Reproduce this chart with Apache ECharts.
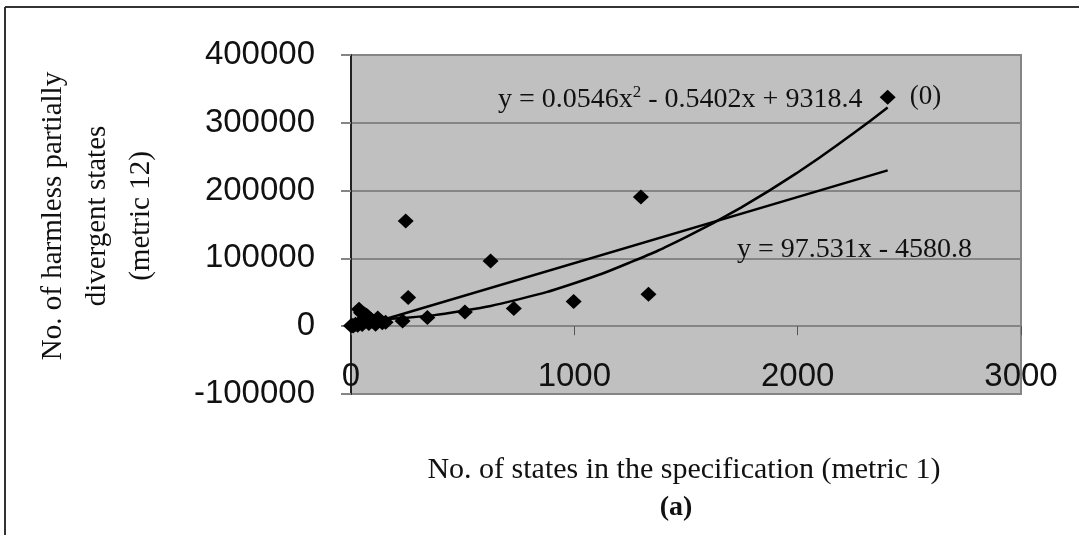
<!DOCTYPE html>
<html>
<head>
<meta charset="utf-8">
<script src="https://cdn.jsdelivr.net/npm/echarts@6/dist/echarts.min.js"></script>
<style>
  html, body { margin: 0; padding: 0; background: #fff; }
  #chart1 { width: 1079px; height: 535px; }
</style>
</head>
<body>
<div id="chart1"></div>
<script>
// states in spec (metric 1) vs harmless partially divergent states (metric 12)
const pointsX = [0, 5, 10, 20, 30, 36, 40, 45, 50, 60, 70, 75, 80, 90, 100, 110, 120, 140, 155,
  231, 245, 256, 342, 510, 625, 729, 997, 1298, 1332, 2403];
const pointsY = [500, 1000, 200, 3000, 1500, 25000, 6000, 20000, 2500, 18000, 16000, 14000, 4000, 10000, 7000, 3000, 12000, 5000, 6000,
  7800, 155000, 42200, 12800, 21000, 96000, 26000, 36300, 190700, 47000, 337800];

// trend lines
const linX = [0, 2403];
const linY = [-4600, 229800];
const polyX = [0, 250, 500, 750, 1000, 1250, 1500, 1750, 2000, 2250, 2403];
const polyY = [9300, 12600, 22700, 39600, 63400, 94100, 131500, 175700, 226700, 284500, 322500];

const xTicks = [0, 1000, 2000, 3000];
const yTicks = [-100000, 0, 100000, 200000, 300000, 400000];

const polyLabel = '{a|y = 0.0546x}{s|2}{a| - 0.5402x + 9318.4}';
const linLabel = 'y = 97.531x - 4580.8';
const topPointLabel = '(0)';

const zip = (a, b) => a.map((v, i) => [v, b[i]]);

let myChart = echarts.init(document.getElementById('chart1'));
const serif = '"Liberation Serif", "Times New Roman", serif';
const sans = '"Liberation Sans", Arial, sans-serif';

const option = {
    animation: false,
    backgroundColor: '#fff',
    grid: {
        left: 351, right: 58, top: 55, bottom: 141,
        show: true,
        backgroundColor: '#c0c0c0',
        borderColor: '#858585',
        borderWidth: 2
    },
    xAxis: {
        type: 'value',
        min: xTicks[0], max: xTicks[xTicks.length - 1], interval: 1000,
        axisLine: { onZero: true, lineStyle: { color: '#858585', width: 2 } },
        axisTick: { show: true, length: 9, inside: false, lineStyle: { color: '#555', width: 1 } },
        axisLabel: { fontFamily: sans, fontSize: 33, color: '#111', margin: -34, formatter: v => String(v) },
        splitLine: { show: false }
    },
    yAxis: {
        type: 'value',
        min: yTicks[0], max: yTicks[yTicks.length - 1], interval: 100000,
        axisLine: { show: true, onZero: false, lineStyle: { color: '#222', width: 2 } },
        axisTick: { show: true, length: 10, lineStyle: { color: '#858585', width: 2 } },
        axisLabel: { fontFamily: sans, fontSize: 33, color: '#111', margin: 36, formatter: v => String(v) },
        splitLine: { show: true, lineStyle: { color: '#858585', width: 2 } }
    },
    series: [
        {
            type: 'line',
            data: zip(linX, linY),
            symbol: 'none',
            lineStyle: { color: '#000', width: 2.5 },
            z: 3
        },
        {
            type: 'line',
            data: zip(polyX, polyY),
            symbol: 'none',
            smooth: true,
            lineStyle: { color: '#000', width: 2.5 },
            z: 3
        },
        {
            type: 'scatter',
            data: zip(pointsX, pointsY).map((p, i, arr) => i === arr.length - 1 ? {
                value: p,
                label: {
                    show: true, position: 'right', distance: 14,
                    formatter: topPointLabel,
                    fontFamily: serif, fontSize: 27, color: '#111'
                }
            } : p),
            symbol: 'diamond',
            symbolSize: [16, 15],
            itemStyle: { color: '#000', opacity: 1 },
            z: 4
        }
    ],
    graphic: [
        { type: 'line', shape: { x1: 5, y1: 7, x2: 1079, y2: 7 }, style: { stroke: '#333', lineWidth: 2 } },
        { type: 'line', shape: { x1: 5, y1: 7, x2: 5, y2: 535 }, style: { stroke: '#333', lineWidth: 2 } },
        {
            type: 'text', left: 498, top: 84, z: 10,
            style: {
                text: polyLabel, fill: '#111',
                rich: {
                    a: { fontFamily: serif, fontSize: 28, lineHeight: 32, fill: '#111' },
                    s: { fontFamily: serif, fontSize: 17, lineHeight: 18, verticalAlign: 'top', fill: '#111' }
                }
            }
        },
        {
            type: 'text', left: 737, top: 236, z: 10,
            style: { text: linLabel, fontFamily: serif, fontSize: 28, fill: '#111' }
        },
        {
            type: 'text', x: 97, y: 216, rotation: Math.PI / 2,
            style: {
                text: 'No. of harmless partially\ndivergent states\n(metric 12)',
                fontFamily: serif, fontSize: 29, fill: '#111', lineHeight: 44,
                align: 'center', verticalAlign: 'middle'
            }
        },
        {
            type: 'text', x: 684, y: 470,
            style: {
                text: 'No. of states in the specification (metric 1)',
                fontFamily: serif, fontSize: 30, fill: '#111',
                align: 'center', verticalAlign: 'middle'
            }
        },
        {
            type: 'text', x: 676, y: 508,
            style: {
                text: '(a)', fontFamily: serif, fontSize: 28, fontWeight: 'bold', fill: '#111',
                align: 'center', verticalAlign: 'middle'
            }
        }
    ]
};
myChart.setOption(option);
</script>
</body>
</html>
